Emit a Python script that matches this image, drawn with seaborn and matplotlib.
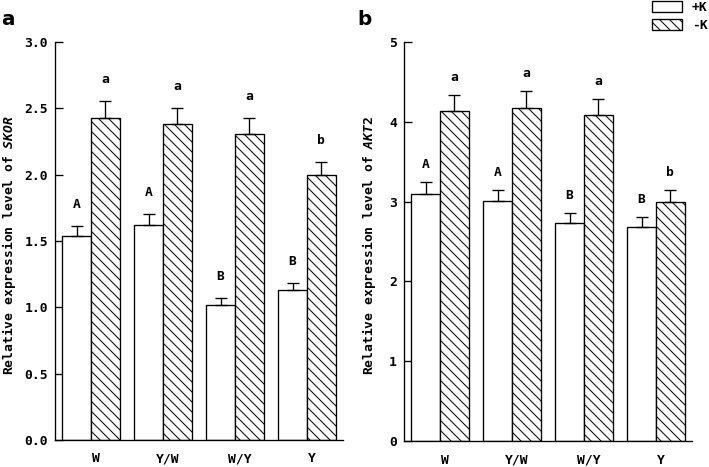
import matplotlib
matplotlib.use('Agg')
import matplotlib.pyplot as plt
import seaborn as sns
import pandas as pd
import numpy as np
from matplotlib.transforms import ScaledTranslation

# ---------------- data ----------------
genotypes = ['W', 'Y/W', 'W/Y', 'Y']
treatments = ['+K', '-K']

skor_plusK = [1.54, 1.62, 1.02, 1.13]
skor_plusK_err = [0.075, 0.08, 0.05, 0.055]
skor_minusK = [2.43, 2.38, 2.31, 1.995]
skor_minusK_err = [0.125, 0.123, 0.118, 0.098]
skor_letters_plusK = ['A', 'A', 'B', 'B']
skor_letters_minusK = ['a', 'a', 'a', 'b']
skor_yticks = [0.0, 0.5, 1.0, 1.5, 2.0, 2.5, 3.0]

akt2_plusK = [3.10, 3.01, 2.73, 2.68]
akt2_plusK_err = [0.15, 0.14, 0.13, 0.13]
akt2_minusK = [4.14, 4.17, 4.08, 3.00]
akt2_minusK_err = [0.20, 0.21, 0.20, 0.15]
akt2_letters_plusK = ['A', 'A', 'B', 'B']
akt2_letters_minusK = ['a', 'a', 'a', 'b']
akt2_yticks = [0, 1, 2, 3, 4, 5]

# ---------------- style ----------------
sns.set_theme(style='ticks')
MONO = 'DejaVu Sans Mono'
plt.rcParams['font.family'] = [MONO, 'DejaVu Sans']
plt.rcParams['font.weight'] = 'bold'
plt.rcParams['axes.labelweight'] = 'bold'
plt.rcParams['text.color'] = 'black'
plt.rcParams['axes.labelcolor'] = 'black'
plt.rcParams['mathtext.fontset'] = 'custom'
plt.rcParams['mathtext.it'] = 'DejaVu Sans Mono:italic:bold'
plt.rcParams['mathtext.rm'] = 'DejaVu Sans Mono:bold'
plt.rcParams['hatch.color'] = 'black'
plt.rcParams['hatch.linewidth'] = 0.6
plt.rcParams['axes.edgecolor'] = 'black'
plt.rcParams['axes.linewidth'] = 0.8

BS = chr(92)
HATCH = BS * 4

DPI = 120
fig = plt.figure(figsize=(709 / DPI, 467 / DPI), dpi=DPI)
W, H = 709, 467
ax1 = fig.add_axes([55 / W, 1 - 440 / H, 288 / W, 398 / H])
ax2 = fig.add_axes([404 / W, 1 - 441 / H, 288 / W, 399 / H])

FS = 7.8


def panel(ax, plus, plus_err, minus, minus_err, lp, lm, yticks, fmt, gene,
          letter_off, label_x):
    df = pd.DataFrame({
        'genotype': genotypes * 2,
        'treatment': [treatments[0]] * len(genotypes) + [treatments[1]] * len(genotypes),
        'value': list(plus) + list(minus),
    })
    sns.barplot(data=df, x='genotype', y='value', hue='treatment',
                order=genotypes, hue_order=treatments,
                palette=['white', 'white'], saturation=1,
                edgecolor='black', linewidth=0.8, errorbar=None,
                width=0.8, ax=ax, legend=False)
    for p in ax.containers[1].patches:
        p.set_hatch(HATCH)
    for cont, vals, errs, letters in zip(ax.containers, [plus, minus],
                                         [plus_err, minus_err], [lp, lm]):
        xs = [p.get_x() + p.get_width() / 2 for p in cont.patches]
        ax.errorbar(xs, vals, yerr=[np.zeros(len(errs)), errs], fmt='none',
                    ecolor='black', elinewidth=0.8, capsize=3.6,
                    capthick=0.8, zorder=3)
        for x, v, e, t in zip(xs, vals, errs, letters):
            ax.annotate(t, (x, v + e), xytext=(0, letter_off),
                        textcoords='offset points', ha='center', va='bottom',
                        fontsize=FS, fontweight='bold', family=MONO,
                        color='black')
    ax.set_xlim(-0.5, 3.5)
    ax.set_ylim(yticks[0], yticks[-1])
    ax.set_yticks(yticks)
    ax.set_yticklabels([fmt.format(t) for t in yticks])
    ax.set_xlabel('')
    ax.set_ylabel('Relative expression level of $' + BS + 'mathit{' + gene + '}$',
                  fontsize=FS, fontweight='bold', color='black')
    ax.yaxis.set_label_coords(label_x, 0.49)
    sns.despine(ax=ax)
    ax.tick_params(axis='y', direction='in', length=4.8, width=0.8, pad=4.2,
                   labelsize=FS, colors='black')
    ax.tick_params(axis='x', length=0, pad=7.5, labelsize=FS, colors='black')
    off = ScaledTranslation(3 / 72, 0, fig.dpi_scale_trans)
    for lab in ax.get_xticklabels():
        lab.set_transform(lab.get_transform() + off)
        lab.set_fontweight('bold')
    for lab in ax.get_yticklabels():
        lab.set_fontweight('bold')


panel(ax1, skor_plusK, skor_plusK_err, skor_minusK, skor_minusK_err,
      skor_letters_plusK, skor_letters_minusK, skor_yticks, '{:.1f}', 'SKOR',
      9.0, -0.13)
panel(ax2, akt2_plusK, akt2_plusK_err, akt2_minusK, akt2_minusK_err,
      akt2_letters_plusK, akt2_letters_minusK, akt2_yticks, '{:d}', 'AKT2',
      6.6, -0.092)

fig.text(1 / W, 1 - 25 / H, 'a', fontsize=12, fontweight='bold',
         family='DejaVu Sans', va='baseline', ha='left', color='black')
fig.text(357 / W, 1 - 25 / H, 'b', fontsize=12, fontweight='bold',
         family='DejaVu Sans', va='baseline', ha='left', color='black')

handles = [ax2.containers[0].patches[0], ax2.containers[1].patches[0]]
leg = fig.legend(handles=handles, labels=treatments, loc='upper left',
                 bbox_to_anchor=(651 / W, 1.0), frameon=False,
                 fontsize=FS, handlelength=2.3, handleheight=0.9,
                 handletextpad=0.75, labelspacing=0.35, borderpad=0.1,
                 borderaxespad=0)
for t in leg.get_texts():
    t.set_fontweight('bold')
    t.set_color('black')

fig.savefig('out.png', dpi=DPI)
